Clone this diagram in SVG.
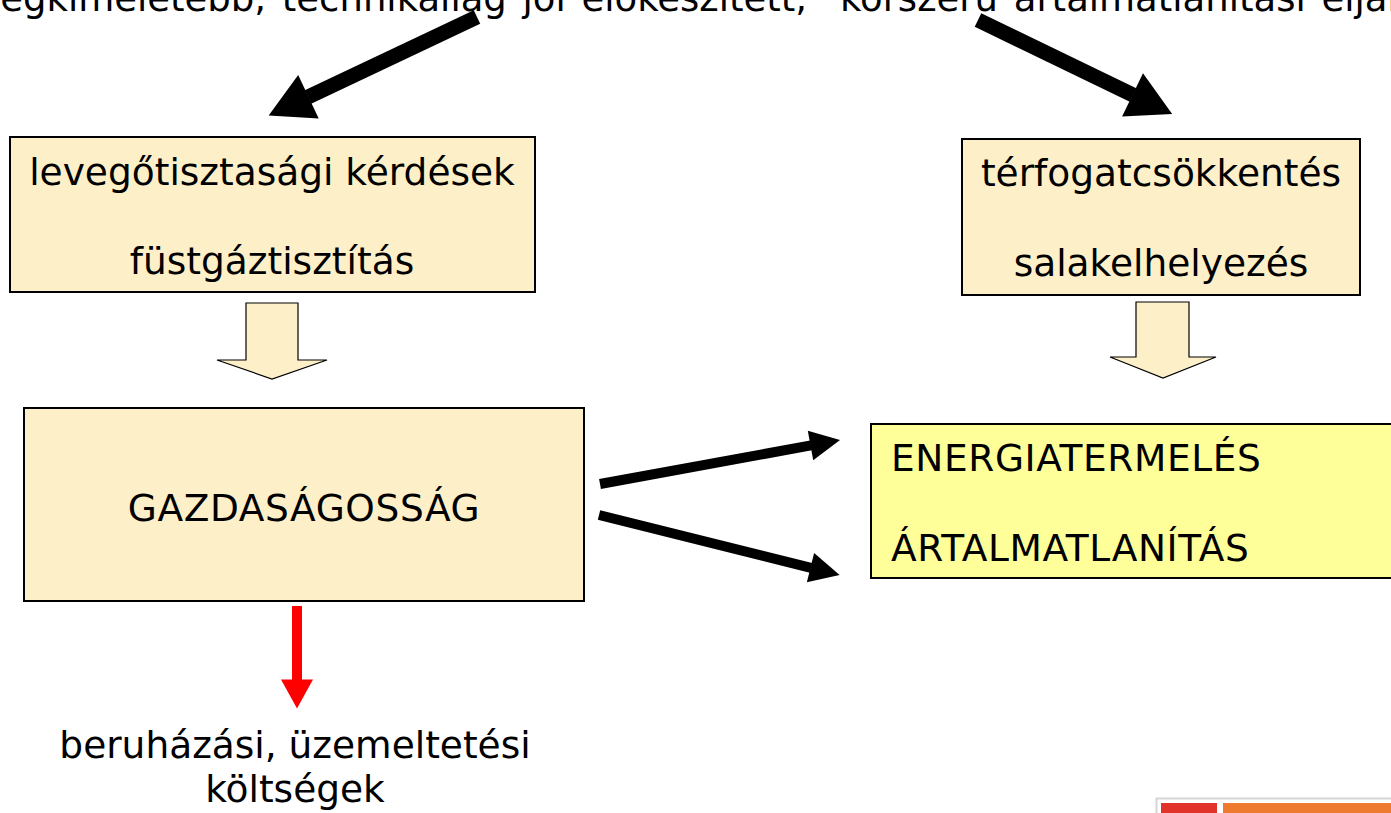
<svg xmlns="http://www.w3.org/2000/svg" width="1391" height="813" viewBox="0 0 1391 813">
  <style>
    text { font-family: "DejaVu Sans", Verdana, sans-serif; font-size: 37.5px; fill: #000; }
    .mid { text-anchor: middle; }
    .caps { letter-spacing: 0.6px; }
    .box { fill: #FDF0C9; stroke: #000; stroke-width: 2; }
    .hl { fill: #FFFF99; stroke: #000; stroke-width: 2; }
    .block { fill: #FDF0C9; stroke: #000; stroke-width: 1.2; stroke-linejoin: miter; }
    .thick { stroke: #000; stroke-width: 15; fill: none; }
    .med { stroke: #000; stroke-width: 10; fill: none; }
    .red { stroke: #FF0000; stroke-width: 10; fill: none; }
  </style>
  <defs>
    <marker id="headBig" markerUnits="userSpaceOnUse" markerWidth="46" markerHeight="50" refX="0.5" refY="24" orient="auto" overflow="visible">
      <path d="M0,0 L44,24 L0,48 Z" fill="#000"/>
    </marker>
    <marker id="headMid" markerUnits="userSpaceOnUse" markerWidth="32" markerHeight="32" refX="0.5" refY="15" orient="auto" overflow="visible">
      <path d="M0,0 L30,15 L0,30 Z" fill="#000"/>
    </marker>
    <marker id="headRed" markerUnits="userSpaceOnUse" markerWidth="32" markerHeight="34" refX="0.5" refY="16" orient="auto" overflow="visible">
      <path d="M0,0 L29,16 L0,32 Z" fill="#FF0000"/>
    </marker>
  </defs>

  <rect width="1391" height="813" fill="#fff"/>

  <!-- heading line, running past the page edges -->
  <text id="heading" x="-10" y="11" style="font-size:37px; word-spacing:4px">legkíméletebb, technikailag jól előkészített, "korszerű ártalmatlanítási eljárás"</text>

  <g id="node-air">
    <rect class="box" x="10" y="137" width="525" height="155"/>
    <text class="mid" x="272" y="185">levegőtisztasági kérdések</text>
    <text class="mid" x="272" y="274">füstgáztisztítás</text>
  </g>

  <g id="node-volume">
    <rect class="box" x="962" y="139" width="398" height="156"/>
    <text class="mid" x="1161" y="186">térfogatcsökkentés</text>
    <text class="mid" x="1161" y="276">salakelhelyezés</text>
  </g>

  <g id="node-economy">
    <rect class="box" x="24" y="408" width="560" height="193"/>
    <text class="mid caps" x="304" y="521">GAZDASÁGOSSÁG</text>
  </g>

  <g id="node-energy">
    <rect class="hl" x="871" y="424" width="540" height="154"/>
    <text class="caps" x="891" y="471">ENERGIATERMELÉS</text>
    <text class="caps" x="891" y="561">ÁRTALMATLANÍTÁS</text>
  </g>

  <g id="node-costs">
    <text class="mid" x="295" y="758">beruházási, üzemeltetési</text>
    <text class="mid" x="295" y="802">költségek</text>
  </g>

  <g id="connectors">
    <line class="thick" x1="477" y1="17" x2="308" y2="97" marker-end="url(#headBig)"/>
    <line class="thick" x1="978" y1="20" x2="1133" y2="95" marker-end="url(#headBig)"/>
    <path class="block" d="M246,303 H298 V360 H327 L272,379 L217,360 H246 Z"/>
    <path class="block" d="M1136,302 H1189 V357 H1216 L1163,378 L1110,357 H1136 Z"/>
    <line class="med" x1="600" y1="484" x2="811" y2="445.4" marker-end="url(#headMid)"/>
    <line class="med" x1="599" y1="515" x2="811" y2="567.8" marker-end="url(#headMid)"/>
    <line class="red" x1="297" y1="606" x2="297" y2="680" marker-end="url(#headRed)"/>
  </g>

  <!-- footer strip -->
  <g id="footer">
    <rect x="1156.5" y="798.5" width="240" height="20" fill="#fff" stroke="#D6D6D6" stroke-width="2"/>
    <rect x="1161" y="803" width="56" height="12" fill="#E2332B"/>
    <rect x="1223" y="803" width="175" height="12" fill="#EE7A2F"/>
  </g>
</svg>
